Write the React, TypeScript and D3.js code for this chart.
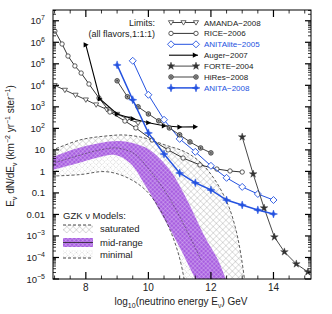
import React from 'react';
import * as d3 from 'd3';

// Neutrino flux limits vs GZK models. Energies are log10(E/GeV), fluxes log10(km^-2 yr^-1 sr^-1)
const W = 332;
const H = 314;
const margin = { top: 10, right: 21, bottom: 35, left: 53 };

const amandaE = [7.0, 7.33, 7.67, 8.0, 8.33, 8.67, 9.0, 9.33, 9.67];
const amandaF = [4.0, 3.78, 3.55, 3.33, 3.1, 2.88, 2.66, 2.45, 2.25];

const riceE = [7.01, 7.24, 7.43, 7.65, 7.85, 8.1, 8.42, 8.77, 9.25, 9.6, 10.12, 10.63, 11.11, 11.65, 12.19, 12.61, 13.0];
const riceF = [6.52, 5.92, 5.36, 4.9, 4.57, 4.06, 3.41, 2.76, 2.34, 2.02, 1.46, 1.0, 0.62, 0.3, 0.11, 0.02, -0.03];

const anitaLiteE = [9.5, 10.0, 10.5, 11.0, 11.5, 12.0, 12.5, 13.0, 13.5, 14.0];
const anitaLiteF = [5.14, 3.56, 2.4, 1.51, 0.91, 0.26, -0.3, -0.72, -1.05, -1.33];

const augerE = [8.0, 8.45, 9.0, 9.5, 10.0, 10.5, 11.0, 11.5];
const augerF = [5.88, 3.37, 2.67, 2.45, 2.26, 2.12, 2.06, 2.07];

const forteE = [13.0, 13.35, 13.7, 14.03, 14.35, 14.73, 15.1];
const forteF = [1.6, -0.12, -1.7, -3.05, -3.74, -4.3, -4.67];

const hiresE = [9.0, 9.33, 9.67, 10.0, 10.33, 10.67, 11.0, 11.33, 11.67, 12.0];
const hiresF = [4.21, 3.47, 3.0, 2.67, 2.35, 2.02, 1.7, 1.37, 1.09, 0.86];

const anitaE = [9.0, 9.5, 10.0, 10.5, 11.0, 11.5, 12.0, 12.5, 13.0, 13.5, 14.0];
const anitaF = [4.95, 3.33, 1.79, 0.81, -0.07, -0.53, -0.86, -1.33, -1.56, -1.79, -1.98];

// GZK model bands
const satTopE = [6.9, 7.81, 8.61, 9.25, 9.89, 10.53, 11.17, 11.65, 12.13, 12.55, 12.8, 12.96, 13.1];
const satTopF = [0.97, 1.46, 1.64, 1.69, 1.55, 1.23, 0.91, 0.44, -0.4, -1.56, -2.72, -3.88, -5.3];
const midTopE = [6.9, 7.65, 8.45, 9.09, 9.73, 10.05, 10.69, 11.24, 11.81, 12.23, 12.55];
const midTopF = [0.65, 1.04, 1.32, 1.41, 1.22, 0.99, 0.06, -1.33, -3.05, -4.12, -5.3];
const midLowE = [6.9, 7.65, 8.45, 8.93, 9.41, 9.89, 10.47, 11.01, 11.6];
const midLowF = [0.05, 0.34, 0.67, 0.76, 0.39, -0.63, -2.12, -3.56, -5.3];
const minLowE = [6.9, 7.81, 8.61, 9.25, 9.89, 10.37, 10.75, 11.01, 11.18];
const minLowF = [-0.22, -0.15, -0.01, -0.24, -0.84, -1.77, -2.93, -4.09, -5.3];

const xLabels = [8, 10, 12, 14];
const yDecades = d3.range(-5, 8);

const BLUE = '#2452e0';
const FONT = "'Liberation Sans', Arial, sans-serif";

const x = d3.scaleLinear().domain([6.95, 15.2]).range([margin.left, W - margin.right]);
const y = d3.scaleLog().domain([1e-5, 10 ** 7.5]).range([H - margin.bottom, margin.top]);

const px = (e: number) => x(e);
const py = (f: number) => y(10 ** f);

const pts = (es: number[], fs: number[]) => es.map((e, i) => [px(e), py(fs[i])] as [number, number]);

const line = d3.line<[number, number]>().curve(d3.curveCatmullRom.alpha(0.5));
const straight = d3.line<[number, number]>();

function band(topE: number[], topF: number[], lowE: number[], lowF: number[]) {
  const up = line(pts(topE, topF)) || '';
  const low = line(pts(lowE, lowF).reverse()) || '';
  return up + low.replace(/^M/, 'L') + 'Z';
}

const triDown = 'M-2.6,-1.8L2.6,-1.8L0,2.6Z';
const triRight = 'M-2.2,-2.6L2.8,0L-2.2,2.6Z';
const diamond = 'M0,-3.5L3.5,0L0,3.5L-3.5,0Z';
const star4 = 'M0,-4L1,-1L4,0L1,1L0,4L-1,1L-4,0L-1,-1Z';
const star5 = d3.symbol().type(d3.symbolStar).size(18)() || '';

type Marker = (key: string, cx: number, cy: number) => JSX.Element;

const mk = {
  amanda: (k: string, cx: number, cy: number) => (
    <path key={k} d={triDown} transform={`translate(${cx},${cy})`} fill="#fff" stroke="#444" strokeWidth={0.8} />
  ),
  rice: (k: string, cx: number, cy: number) => (
    <circle key={k} cx={cx} cy={cy} r={2.2} fill="#fff" stroke="#333" strokeWidth={0.8} />
  ),
  lite: (k: string, cx: number, cy: number) => (
    <path key={k} d={diamond} transform={`translate(${cx},${cy})`} fill="#fff" stroke={BLUE} strokeWidth={0.9} />
  ),
  auger: (k: string, cx: number, cy: number) => (
    <path key={k} d={triRight} transform={`translate(${cx},${cy})`} fill="#000" />
  ),
  forte: (k: string, cx: number, cy: number) => (
    <path key={k} d={star5} transform={`translate(${cx},${cy})`} fill="#333" stroke="#333" strokeWidth={0.4} />
  ),
  hires: (k: string, cx: number, cy: number) => (
    <g key={k}>
      <circle cx={cx} cy={cy} r={2.3} fill="#999" stroke="#333" strokeWidth={0.8} />
      <circle cx={cx} cy={cy} r={0.7} fill="#222" />
    </g>
  ),
  anita: (k: string, cx: number, cy: number) => (
    <path key={k} d={star4} transform={`translate(${cx},${cy})`} fill={BLUE} stroke={BLUE} strokeWidth={0.5} />
  ),
};

const series: { name: string; e: number[]; f: number[]; color: string; width: number; marker: Marker; text: string; ends: string }[] = [
  { name: 'AMANDA\u22122008', e: amandaE, f: amandaF, color: '#444', width: 1, marker: mk.amanda, text: '#222', ends: 'three' },
  { name: 'RICE\u22122006', e: riceE, f: riceF, color: '#333', width: 1, marker: mk.rice, text: '#222', ends: 'both' },
  { name: 'ANITAlite\u22122005', e: anitaLiteE, f: anitaLiteF, color: BLUE, width: 1, marker: mk.lite, text: BLUE, ends: 'both' },
  { name: 'Auger\u22122007', e: augerE, f: augerF, color: '#000', width: 1.1, marker: mk.auger, text: '#222', ends: 'right' },
  { name: 'FORTE\u22122004', e: forteE, f: forteF, color: '#333', width: 0.9, marker: mk.forte, text: '#222', ends: 'both' },
  { name: 'HiRes\u22122008', e: hiresE, f: hiresF, color: '#444', width: 1, marker: mk.hires, text: '#222', ends: 'both' },
  { name: 'ANITA\u22122008', e: anitaE, f: anitaF, color: BLUE, width: 1.5, marker: mk.anita, text: BLUE, ends: 'both' },
];

function yLabel(d: number) {
  if (d === 1) return <tspan>10</tspan>;
  if (d === 0) return <tspan>1</tspan>;
  if (d === -1) return <tspan>0.1</tspan>;
  if (d === -2) return <tspan>0.01</tspan>;
  const s = d < 0 ? `\u2212${-d}` : `${d}`;
  return (
    <>
      <tspan>10</tspan>
      <tspan dy={-4} fontSize={7}>{s}</tspan>
    </>
  );
}

export default function App() {
  const [x0, x1] = x.range();
  const [yb, yt] = y.range();

  const minorY: number[] = [];
  yDecades.forEach((d) => {
    for (let k = 2; k <= 9; k++) {
      const v = k * 10 ** d;
      if (v < 10 ** 7.5) minorY.push(v);
    }
  });
  const minorX = d3.range(7, 15.01, 0.5);

  const satPath = band(satTopE, satTopF, midTopE, midTopF);
  const midPath = band(midTopE, midTopF, midLowE, midLowF);
  const minPath = band(midLowE, midLowF, minLowE, minLowF);
  const centerE = midLowE.map((e, i) => e + (midTopE[i] - e) * 0.5);
  const centerF = midLowF.map((f, i) => f + (midTopF[i] - f) * 0.5);

  const legX0 = 169;
  const legX1 = 198;
  const legY = (i: number) => 22.5 + i * 10.9;

  return (
    <svg width={W} height={H} style={{ position: 'absolute', left: 0, top: 0, background: '#fff' }} fontFamily={FONT}>
      <defs>
        <clipPath id="plot">
          <rect x={x0} y={yt} width={x1 - x0} height={yb - yt} />
        </clipPath>
        <pattern id="xh" width={4.5} height={4.5} patternUnits="userSpaceOnUse" patternTransform="rotate(45)">
          <rect width={4.5} height={4.5} fill="#fff" />
          <line x1={0} y1={0} x2={0} y2={4.5} stroke="#888" strokeWidth={0.5} />
          <line x1={0} y1={0} x2={4.5} y2={0} stroke="#888" strokeWidth={0.5} />
        </pattern>
        <pattern id="xhd" width={4} height={4} patternUnits="userSpaceOnUse" patternTransform="rotate(45)">
          <rect width={4} height={4} fill="#fff" />
          <line x1={0} y1={0} x2={0} y2={4} stroke="#888" strokeWidth={0.5} strokeDasharray="1,1" />
          <line x1={0} y1={0} x2={4} y2={0} stroke="#888" strokeWidth={0.5} strokeDasharray="1,1" />
        </pattern>
        <pattern id="pur" width={3} height={3} patternUnits="userSpaceOnUse" patternTransform="rotate(45)">
          <rect width={3} height={3} fill="#a85ee0" />
          <line x1={0} y1={0} x2={0} y2={3} stroke="#e4cdf6" strokeWidth={0.7} />
          <line x1={0} y1={0} x2={3} y2={0} stroke="#e4cdf6" strokeWidth={0.7} />
        </pattern>
      </defs>

      {/* GZK bands */}
      <g clipPath="url(#plot)">
        <path d={satPath} fill="url(#xh)" />
        <path d={minPath} fill="url(#xhd)" />
        <path d={midPath} fill="url(#pur)" />
        <path d={line(pts(centerE, centerF)) || ''} fill="none" stroke="#333" strokeWidth={0.5} strokeDasharray="2,1.5" />
        <path d={line(pts(satTopE, satTopF)) || ''} fill="none" stroke="#333" strokeWidth={0.8} strokeDasharray="3,2" />
        <path d={line(pts(minLowE, minLowF)) || ''} fill="none" stroke="#333" strokeWidth={0.8} strokeDasharray="3,2" />
      </g>

      {/* limit curves */}
      <g clipPath="url(#plot)">
        {series.map((s) => (
          <g key={s.name}>
            <path d={straight(pts(s.e, s.f)) || ''} fill="none" stroke={s.color} strokeWidth={s.width} />
            {pts(s.e, s.f).map(([cx, cy], i) => s.marker(`${s.name}${i}`, cx, cy))}
          </g>
        ))}
      </g>

      {/* frame and ticks */}
      <rect x={x0} y={yt} width={x1 - x0} height={yb - yt} fill="none" stroke="#000" strokeWidth={1} />
      {yDecades.map((d) => (
        <g key={`yd${d}`}>
          <line x1={x0} x2={x0 + 6} y1={y(10 ** d)} y2={y(10 ** d)} stroke="#000" strokeWidth={1.2} />
          <line x1={x1} x2={x1 - 6} y1={y(10 ** d)} y2={y(10 ** d)} stroke="#000" strokeWidth={1.2} />
          <text x={45} y={y(10 ** d) + 3.5} textAnchor="end" fontSize={9.5} fill="#222">
            {yLabel(d)}
          </text>
        </g>
      ))}
      {minorY.map((v, i) => (
        <g key={`ym${i}`}>
          <line x1={x0} x2={x0 + 3} y1={y(v)} y2={y(v)} stroke="#000" strokeWidth={0.8} />
          <line x1={x1} x2={x1 - 3} y1={y(v)} y2={y(v)} stroke="#000" strokeWidth={0.8} />
        </g>
      ))}
      {minorX.map((v) => {
        const major = xLabels.includes(v);
        const len = major ? 7 : 3.5;
        return (
          <g key={`xm${v}`}>
            <line x1={x(v)} x2={x(v)} y1={yb} y2={yb - len} stroke="#000" strokeWidth={major ? 1.2 : 0.8} />
            <line x1={x(v)} x2={x(v)} y1={yt} y2={yt + len} stroke="#000" strokeWidth={major ? 1.2 : 0.8} />
          </g>
        );
      })}
      {xLabels.map((v) => (
        <text key={`xl${v}`} x={x(v)} y={290.5} textAnchor="middle" fontSize={10} fill="#222">
          {v}
        </text>
      ))}

      {/* axis titles */}
      <text x={181} y={305} textAnchor="middle" fontSize={10} fill="#222">
        log<tspan dy={3} fontSize={7}>10</tspan>
        <tspan dy={-3}>(neutrino energy E</tspan>
        <tspan dy={3} fontSize={7}>ν</tspan>
        <tspan dy={-3}>) GeV</tspan>
      </text>
      <text transform="translate(14,146) rotate(-90)" textAnchor="middle" fontSize={10} fill="#222">
        E<tspan dy={3} fontSize={7}>ν</tspan>
        <tspan dy={-3}> dN/dE</tspan>
        <tspan dy={3} fontSize={7}>ν</tspan>
        <tspan dy={-3}>   (km</tspan>
        <tspan dy={-4} fontSize={7}>−2</tspan>
        <tspan dy={4}> yr</tspan>
        <tspan dy={-4} fontSize={7}>−1</tspan>
        <tspan dy={4}> ster</tspan>
        <tspan dy={-4} fontSize={7}>−1</tspan>
        <tspan dy={4}>)</tspan>
      </text>

      {/* limits legend */}
      <text x={155} y={26} textAnchor="end" fontSize={9} fill="#222">Limits:</text>
      <text x={155} y={37} textAnchor="end" fontSize={9} fill="#222">(all flavors,1:1:1)</text>
      {series.map((s, i) => {
        const ly = legY(i);
        const xs = s.ends === 'three' ? [legX0 + 2, (legX0 + legX1) / 2, legX1 - 2] : s.ends === 'right' ? [legX1 - 3] : [legX0 + 2, legX1 - 2];
        return (
          <g key={`leg${i}`}>
            <line x1={legX0} x2={legX1} y1={ly} y2={ly} stroke={s.color} strokeWidth={s.width} />
            {xs.map((lx, j) => s.marker(`lm${i}${j}`, lx, ly))}
            <text x={204} y={ly + 3} fontSize={8} fill={s.text}>
              {s.name}
            </text>
          </g>
        );
      })}

      {/* GZK legend */}
      <text x={63} y={219} fontSize={9.5} fill="#222">GZK ν Models:</text>
      <rect x={63} y={225} width={30} height={8} fill="url(#xh)" />
      <line x1={63} x2={93} y1={225} y2={225} stroke="#333" strokeWidth={0.9} strokeDasharray="3,2" />
      <text x={100} y={232} fontSize={9.5} fill="#222">saturated</text>
      <rect x={63} y={238} width={30} height={9} fill="url(#pur)" />
      <line x1={63} x2={93} y1={242.5} y2={242.5} stroke="#222" strokeWidth={0.8} />
      <text x={100} y={246} fontSize={9.5} fill="#222">mid-range</text>
      <rect x={63} y={250} width={30} height={8} fill="url(#xhd)" />
      <line x1={63} x2={93} y1={258} y2={258} stroke="#333" strokeWidth={0.9} strokeDasharray="3,2" />
      <text x={100} y={258} fontSize={9.5} fill="#222">minimal</text>
    </svg>
  );
}
